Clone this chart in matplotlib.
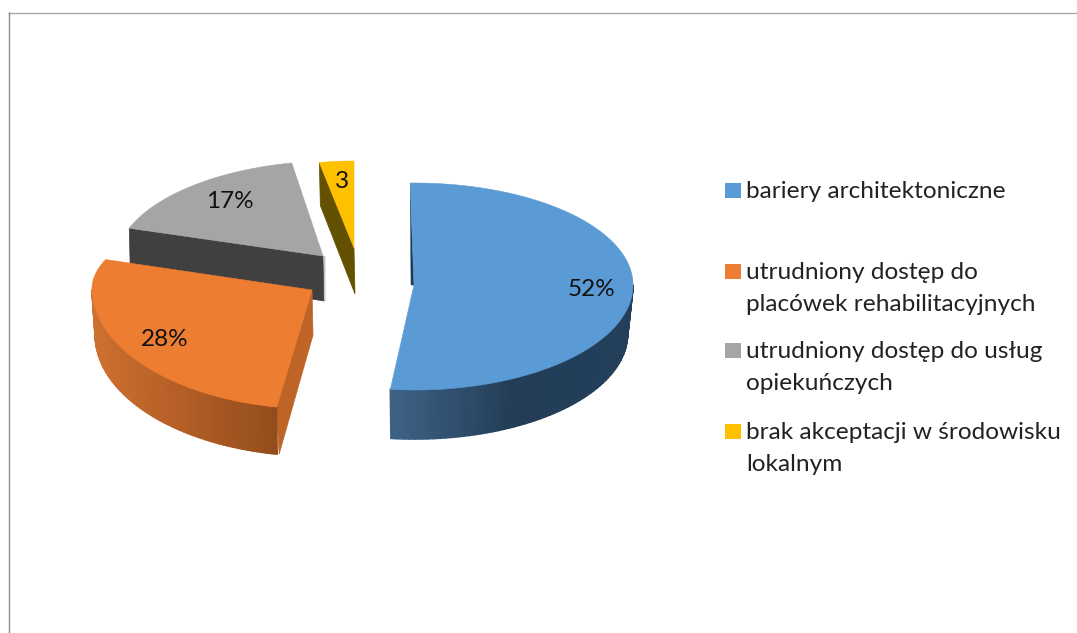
import numpy as np
import matplotlib
matplotlib.use("Agg")
import matplotlib.pyplot as plt
from matplotlib.collections import PolyCollection
from matplotlib.colors import to_rgb
from matplotlib.patches import Polygon, Rectangle

categories = [
    "bariery architektoniczne",
    "utrudniony dostęp do\nplacówek rehabilitacyjnych",
    "utrudniony dostęp do usług\nopiekuńczych",
    "brak akceptacji w środowisku\nlokalnym",
]
shares = [52, 28, 17, 3]
value_labels = ["52%", "28%", "17%", "3"]

top_colors = ["#5B9BD5", "#ED7D31", "#A5A5A5", "#FFC000"]
face_colors = ["#1F3A55", "#BE6427", "#404040", "#635000"]
side_stops = [["#3D6185", "#233D57", "#233F5B"], ["#CE7030", "#B25E26", "#934D1B"], None, None]

# per-slice projection of the exploded 3-D pie (pixels)
apex = [(414, 285), (312, 290), (323, 256), (354, 248)]
rx = [219, 220, 206, 185]
ry_front = [105, 119, 95, 87]
ry_back = [102, 85, 95, 87]
skew = [0.0, 0.03, -0.117, 0.0]
depth = [49, 47, 45, 46]
bottom_scale = [0.975, 0.985, 1.0, 1.0]
view_offset = [-1.0, 3.0, -1.0, 0.0]
legend_y = [198, 279, 358, 439]
label_xy = [(592, 289), (165, 339), (230, 201), (342, 181)]

plt.rcParams["font.family"] = ["Lato", "DejaVu Sans"]
fig = plt.figure(figsize=(10.77, 6.33), dpi=100)
ax = fig.add_axes([0, 0, 1, 1])
ax.set_xlim(0, 1077)
ax.set_ylim(633, 0)
ax.axis("off")


def rim(i, theta, scale=1.0, drop=0.0):
    t = np.radians(theta)
    cos_t = np.cos(t)
    ry = np.where(cos_t < 0, ry_front[i], ry_back[i])
    y = -ry * cos_t
    x = rx[i] * np.sin(t) * scale + skew[i] * y
    return apex[i][0] + x, apex[i][1] + y + drop


def gradient(stops, t):
    rgb = np.array([to_rgb(c) for c in stops])
    pos = np.linspace(0, 1, len(stops))
    return np.column_stack([np.interp(t, pos, rgb[:, k]) for k in range(3)])


edges = np.concatenate([[0], np.cumsum(shares)]) * 3.6
spans = [(edges[i] + view_offset[i], edges[i + 1] + view_offset[i]) for i in range(len(shares))]


def draw_slice(i, z):
    a, b = spans[i]
    ax_, ay_ = apex[i]
    # radial cut face seen from the viewer
    if i == 1:
        x0, y0 = rim(i, a)
        x1, y1 = rim(i, a, bottom_scale[i], depth[i])
        ax.add_patch(Polygon([(ax_, ay_), (x0, y0), (x1 + 2, y1), (ax_ + 1, ay_ + depth[i] - 2)],
                             fc=face_colors[i], ec=face_colors[i], lw=0.5, zorder=z))
    if i in (2, 3):
        x0, y0 = rim(i, a)
        ax.add_patch(Polygon([(x0, y0), (ax_, ay_), (ax_ + 1, ay_ + depth[i]), (x0 + 1, y0 + depth[i] - 3)],
                             fc=face_colors[i], ec=face_colors[i], lw=0.5, zorder=z))
    if i == 0:
        x0, y0 = rim(i, a)
        ax.add_patch(Polygon([(x0, y0), (ax_, ay_), (ax_ - 3, ay_)],
                             fc=face_colors[i], ec=face_colors[i], lw=0.3, zorder=z))
    if i == 2:
        ax.add_patch(Polygon([(ax_ + 1, ay_), (ax_ + 2.5, ay_), (ax_ + 2.5, ay_ + depth[i] + 1), (ax_ + 1, ay_ + depth[i])],
                             fc="#C8C8C8", ec="none", zorder=z))
    # curved outer wall, front half only
    if side_stops[i] is not None:
        lo, hi = max(a, 90.0), min(b, 270.0)
        th = np.linspace(lo, hi, 60)
        xt, yt = rim(i, th)
        xb, yb = rim(i, th, bottom_scale[i], depth[i])
        quads = [[(xt[k], yt[k]), (xt[k + 1], yt[k + 1]), (xb[k + 1], yb[k + 1]), (xb[k], yb[k])]
                 for k in range(len(th) - 1)]
        mid = 0.5 * (xt[:-1] + xt[1:])
        t = (mid - mid.min()) / (mid.max() - mid.min())
        cols = gradient(side_stops[i], t)
        ax.add_collection(PolyCollection(quads, facecolors=cols, edgecolors=cols, linewidths=1.2, zorder=z + 0.1))
    # top surface
    th = np.linspace(a, b, 160)
    xt, yt = rim(i, th)
    pts = np.column_stack([np.r_[ax_, xt], np.r_[ay_, yt]])
    ax.add_patch(Polygon(pts, fc=top_colors[i], ec=top_colors[i], lw=0.4, zorder=z + 0.2))


for z, i in enumerate([3, 2, 1, 0]):
    draw_slice(i, 2 + z)

for (x, y), s in zip(label_xy, value_labels):
    ax.text(x, y, s, ha="center", va="center", fontsize=17.5, color="#111111", zorder=10)

for y, label, c in zip(legend_y, categories, top_colors):
    ax.add_patch(Rectangle((725, y - 15), 16, 15, fc=c, ec="none", zorder=10))
    for n, line in enumerate(label.split("\n")):
        ax.text(746, y + 32 * n, line, ha="left", va="baseline", fontsize=17.6, color="#222222", zorder=10)

ax.plot([8, 1077], [12.5, 12.5], color="#ABABAB", lw=1.0, zorder=1, solid_capstyle="butt")
ax.plot([8.5, 8.5], [12, 633], color="#8E8E8E", lw=1.0, zorder=1, solid_capstyle="butt")

fig.savefig("out.png", dpi=100, facecolor="white")
